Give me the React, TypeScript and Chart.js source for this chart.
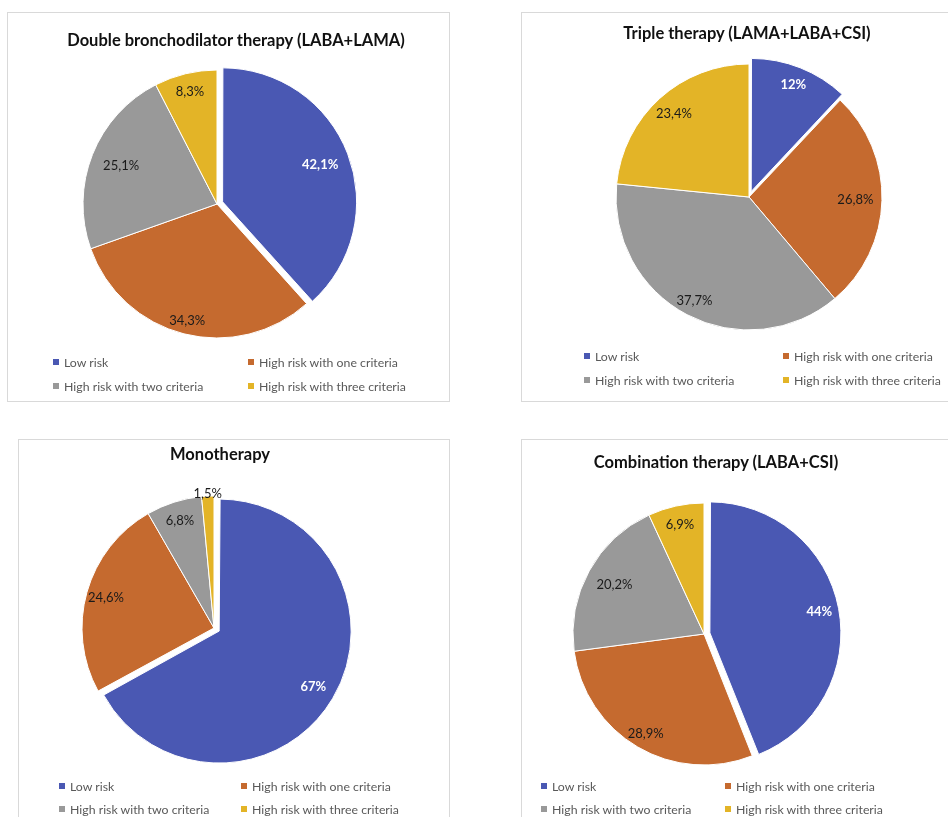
import React, { useEffect, useRef } from "react";
import { Chart, registerables } from "chart.js";

Chart.register(...registerables);

const categories = [
  "Low risk",
  "High risk with one criteria",
  "High risk with two criteria",
  "High risk with three criteria",
];
const doubleValues = [42.1, 34.3, 25.1, 8.3];
const tripleValues = [12, 26.8, 37.7, 23.4];
const monoValues = [67, 24.6, 6.8, 1.5];
const combinationValues = [44, 28.9, 20.2, 6.9];

const titles = [
  "Double bronchodilator therapy (LABA+LAMA)",
  "Triple therapy (LAMA+LABA+CSI)",
  "Monotherapy",
  "Combination therapy (LABA+CSI)",
];

const colors = ["#4A58B3", "#C56A2F", "#999999", "#E3B427"];
const FONT = "Lato, 'Open Sans', sans-serif";

type Layout = {
  x: number; y: number; w: number; h: number;
  cx: number; cy: number; r: number;
  titleX: number; titleY: number;
  legendRows: number[]; legendCols: number[];
  labelFrac: number[];
};

const layouts: Layout[] = [
  { x: 7, y: 12, w: 443, h: 390, cx: 210, cy: 192, r: 134, titleX: 236, titleY: 40,
    legendRows: [362, 386], legendCols: [56, 251], labelFrac: [0.78, 0.9, 0.77, 0.86] },
  { x: 521, y: 12, w: 440, h: 390, cx: 228, cy: 185, r: 133, titleX: 747, titleY: 33,
    legendRows: [356, 380], legendCols: [587, 786], labelFrac: [0.86, 0.8, 0.88, 0.84] },
  { x: 18, y: 439, w: 432, h: 390, cx: 196, cy: 189, r: 132, titleX: 220, titleY: 454,
    legendRows: [786, 809], legendCols: [62, 244], labelFrac: [0.83, 0.85, 0.85, 1.02] },
  { x: 521, y: 439, w: 440, h: 390, cx: 183, cy: 195, r: 131, titleX: 716, titleY: 462,
    legendRows: [786, 809], legendCols: [544, 728], labelFrac: [0.85, 0.88, 0.78, 0.85] },
];

const fmt = (v: number) => String(v).replace(".", ",") + "%";

// Chart.js translates an arc by offset / 4 when drawing it
const EXPLODE = 24;

function PiePanel({ values, layout }: { values: number[]; layout: Layout }) {
  const ref = useRef<HTMLCanvasElement | null>(null);
  useEffect(() => {
    if (!ref.current) return;
    const R0 = 150;
    // keep the exploded slice the same radius as the others
    const radiusFix = {
      id: "radiusFix",
      beforeDatasetsDraw(chart: any) {
        const meta = chart.getDatasetMeta(0);
        meta.data.forEach((arc: any) => {
          const off = (arc.options.offset || 0) / 4;
          if (off > 0) {
            const fix = 1 - Math.sin(Math.min(Math.PI, arc.circumference || 0));
            arc.outerRadius = layout.r - off * fix;
          }
        });
      },
    };
    const labelPlugin = {
      id: "sliceLabels",
      afterDatasetsDraw(chart: any) {
        const ctx = chart.ctx;
        const meta = chart.getDatasetMeta(0);
        meta.data.forEach((arc: any, i: number) => {
          const p = arc.getProps(["x", "y", "startAngle", "endAngle"], true);
          const mid = (p.startAngle + p.endAngle) / 2;
          const off = (arc.options.offset || 0) / 4;
          const rr = off + layout.r * layout.labelFrac[i];
          const lx = p.x + Math.cos(mid) * rr;
          const ly = p.y + Math.sin(mid) * rr;
          ctx.save();
          ctx.textAlign = "center";
          ctx.textBaseline = "middle";
          if (i === 0) {
            ctx.fillStyle = "#ffffff";
            ctx.font = `bold 13px ${FONT}`;
          } else {
            ctx.fillStyle = "#1a1a1a";
            ctx.font = `13px ${FONT}`;
          }
          ctx.fillText(fmt(values[i]), lx, ly);
          ctx.restore();
        });
      },
    };
    const chart = new Chart(ref.current, {
      type: "pie",
      data: {
        labels: categories,
        datasets: [
          {
            data: values,
            backgroundColor: colors,
            borderColor: "#ffffff",
            borderWidth: 1,
            offset: (c: any) => (c.dataIndex === 0 ? EXPLODE : 0),
            hoverOffset: 0,
          },
        ],
      },
      options: {
        responsive: false,
        animation: false,
        radius: layout.r,
        layout: {
          padding: {
            left: layout.cx - R0,
            top: layout.cy - R0,
            right: layout.w - layout.cx - R0,
            bottom: layout.h - layout.cy - R0,
          },
        },
        plugins: {
          legend: { display: false },
          title: { display: false },
          tooltip: { enabled: false },
        },
      } as any,
      plugins: [radiusFix, labelPlugin],
    });
    return () => chart.destroy();
  }, [values, layout]);

  return (
    <>
      <div
        style={{
          position: "absolute",
          left: layout.x,
          top: layout.y,
          width: layout.w,
          height: layout.h,
          border: "1px solid #d9d9d9",
          boxSizing: "border-box",
        }}
      />
      <canvas
        ref={ref}
        width={layout.w}
        height={layout.h}
        style={{ position: "absolute", left: layout.x, top: layout.y, width: layout.w, height: layout.h }}
      />
    </>
  );
}

function Titles() {
  return (
    <>
      {layouts.map((l, k) => (
        <div
          key={"t" + k}
          style={{
            position: "absolute",
            left: l.titleX,
            top: l.titleY,
            transform: "translate(-50%, -50%)",
            whiteSpace: "nowrap",
            font: `bold 16.5px ${FONT}`,
            color: "#111",
          }}
        >
          {titles[k]}
        </div>
      ))}
    </>
  );
}

function Legends() {
  const items: any[] = [];
  layouts.forEach((l, k) => {
    categories.forEach((c, i) => {
      const row = Math.floor(i / 2);
      const col = i % 2;
      const mx = l.legendCols[col];
      const my = l.legendRows[row];
      items.push(
        <div key={`m${k}-${i}`} style={{ position: "absolute", left: mx - 3, top: my - 3, width: 6, height: 6, background: colors[i] }} />
      );
      items.push(
        <div
          key={`l${k}-${i}`}
          style={{
            position: "absolute",
            left: mx + 8,
            top: my,
            transform: "translateY(-50%)",
            whiteSpace: "nowrap",
            font: `12.3px ${FONT}`,
            color: "#595959",
          }}
        >
          {c}
        </div>
      );
    });
  });
  return <>{items}</>;
}

export default function App() {
  const all = [doubleValues, tripleValues, monoValues, combinationValues];
  return (
    <div
      style={{
        position: "absolute",
        left: 0,
        top: 0,
        width: 948,
        height: 817,
        overflow: "hidden",
        background: "#ffffff",
      }}
    >
      {all.map((v, k) => (
        <PiePanel key={k} values={v} layout={layouts[k]} />
      ))}
      <Titles />
      <Legends />
    </div>
  );
}
